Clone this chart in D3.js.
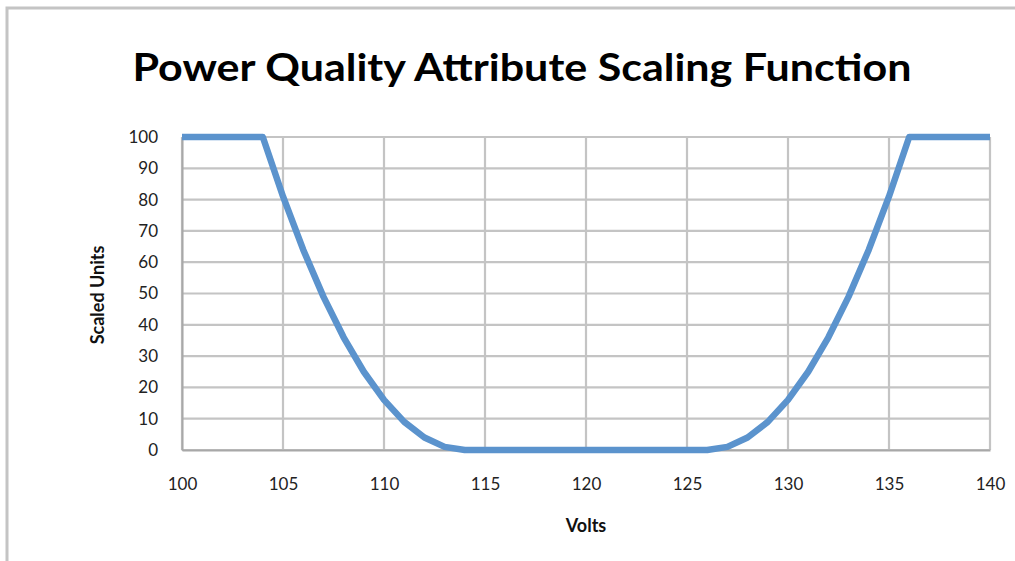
<!DOCTYPE html>
<html><head><meta charset="utf-8">
<script src="https://cdn.jsdelivr.net/npm/d3@7"></script>
<style>body{margin:0;background:#fff}svg{display:block}</style>
</head><body><svg id="c" width="1015" height="561"></svg>
<script>
const volts = [100,101,102,103,104,105,106,107,108,109,110,111,112,113,114,115,116,117,118,119,120,121,122,123,124,125,126,127,128,129,130,131,132,133,134,135,136,137,138,139,140];
const scaled = [100,100,100,100,100,81,64,49,36,25,16,9,4,1,0,0,0,0,0,0,0,0,0,0,0,0,0,1,4,9,16,25,36,49,64,81,100,100,100,100,100];
const xTicks = [100,105,110,115,120,125,130,135,140];
const yTicks = [0,10,20,30,40,50,60,70,80,90,100];
const title = "Power Quality Attribute Scaling Function";
const xLabel = "Volts", yLabel = "Scaled Units";

const svg = d3.select("#c");
const font = "Lato, 'Open Sans', sans-serif";
// outer frame (only top and left visible)
svg.append("rect").attr("x",7).attr("y",8).attr("width",1100).attr("height",700)
  .attr("fill","#fff").attr("stroke","#c4c4c4").attr("stroke-width",3);

const x = d3.scaleLinear().domain([100,140]).range([182,990]);
const y = d3.scaleLinear().domain([0,100]).range([450,137]);

// grid
svg.append("g").selectAll("line").data(yTicks).join("line")
  .attr("x1",x(100)).attr("x2",x(140)).attr("y1",d=>y(d)).attr("y2",d=>y(d))
  .attr("stroke","#c4c4c4").attr("stroke-width",2.2);
svg.append("g").selectAll("line").data(xTicks).join("line")
  .attr("y1",y(0)).attr("y2",y(100)).attr("x1",d=>x(d)).attr("x2",d=>x(d))
  .attr("stroke","#c4c4c4").attr("stroke-width",2.2);

// axes
const ya = svg.append("g").attr("transform",`translate(${x(100)},0)`)
  .call(d3.axisLeft(y).tickValues(yTicks).tickSize(0).tickPadding(24));
const xa = svg.append("g").attr("transform",`translate(0,${y(0)})`)
  .call(d3.axisBottom(x).tickValues(xTicks).tickSize(0).tickPadding(28));
[ya,xa].forEach(a=>{
  a.select(".domain").attr("stroke","#a8a8a8").attr("stroke-width",2);
  a.selectAll("text").attr("font-family",font).attr("font-size",17).attr("fill","#222");
});

// line
svg.append("path").datum(volts.map((v,i)=>[v,scaled[i]]))
  .attr("fill","none").attr("stroke","#5b93cd").attr("stroke-width",6.5)
  .attr("stroke-linejoin","round")
  .attr("d",d3.line().x(d=>x(d[0])).y(d=>y(d[1])).curve(d3.curveLinear));

// title and labels
svg.append("text").attr("x",522).attr("y",81).attr("text-anchor","middle")
  .attr("font-family",font).attr("font-weight","bold").attr("font-size",38)
  .attr("textLength",779).attr("lengthAdjust","spacingAndGlyphs").attr("fill","#000").text(title);
svg.append("text").attr("x",586).attr("y",532).attr("text-anchor","middle")
  .attr("font-family",font).attr("font-weight","bold").attr("font-size",18).attr("fill","#111").text(xLabel);
svg.append("text").attr("transform","translate(104,295) rotate(-90)").attr("text-anchor","middle")
  .attr("font-family",font).attr("font-weight","bold").attr("font-size",18).attr("fill","#111").text(yLabel);
</script></body></html>
